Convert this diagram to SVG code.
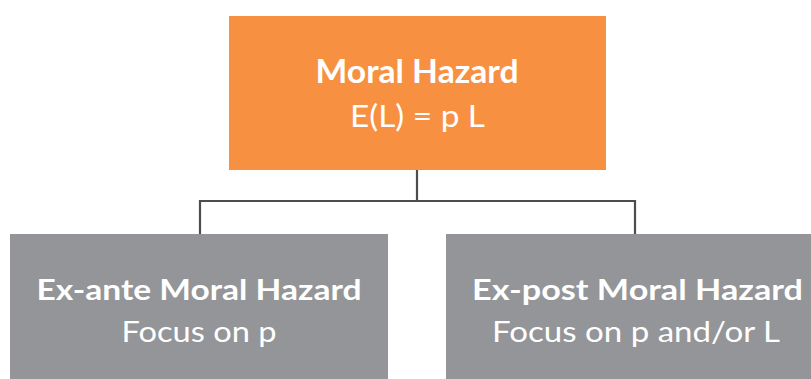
<svg xmlns="http://www.w3.org/2000/svg" width="811" height="379" viewBox="0 0 811 379">
<style>
.t{font-family:Lato,"Open Sans","Liberation Sans",sans-serif;fill:#fff;text-anchor:middle}
.b{font-weight:700}
.r{font-weight:400}
.c{fill:none;stroke:#4d4d4f;stroke-width:2.2}
</style>
<rect width="811" height="379" fill="#fff"/>
<g id="connectors">
<path class="c" d="M417,170 V201 M199,201 H635 M200,200 V234 M635,200 V234"/>
</g>
<g id="root">
<rect x="229" y="16" width="377" height="154" fill="#f79141"/>
<text class="t b" x="417" y="83" font-size="32" textLength="203" lengthAdjust="spacingAndGlyphs">Moral Hazard</text>
<text class="t r" x="417.5" y="127" font-size="30.5" textLength="135" lengthAdjust="spacingAndGlyphs">E(L) = p L</text>
</g>
<g id="exante">
<rect x="10" y="234" width="378" height="145" fill="#939598"/>
<text class="t b" x="199" y="300" font-size="28" textLength="325" lengthAdjust="spacingAndGlyphs">Ex-ante Moral Hazard</text>
<text class="t r" x="199" y="342" font-size="28" textLength="155" lengthAdjust="spacingAndGlyphs">Focus on p</text>
</g>
<g id="expost">
<rect x="446" y="234" width="365" height="145" fill="#939598"/>
<text class="t b" x="637.5" y="300" font-size="28" textLength="331" lengthAdjust="spacingAndGlyphs">Ex-post Moral Hazard</text>
<text class="t r" x="636" y="342" font-size="28" textLength="288" lengthAdjust="spacingAndGlyphs">Focus on p and/or L</text>
</g>
</svg>
